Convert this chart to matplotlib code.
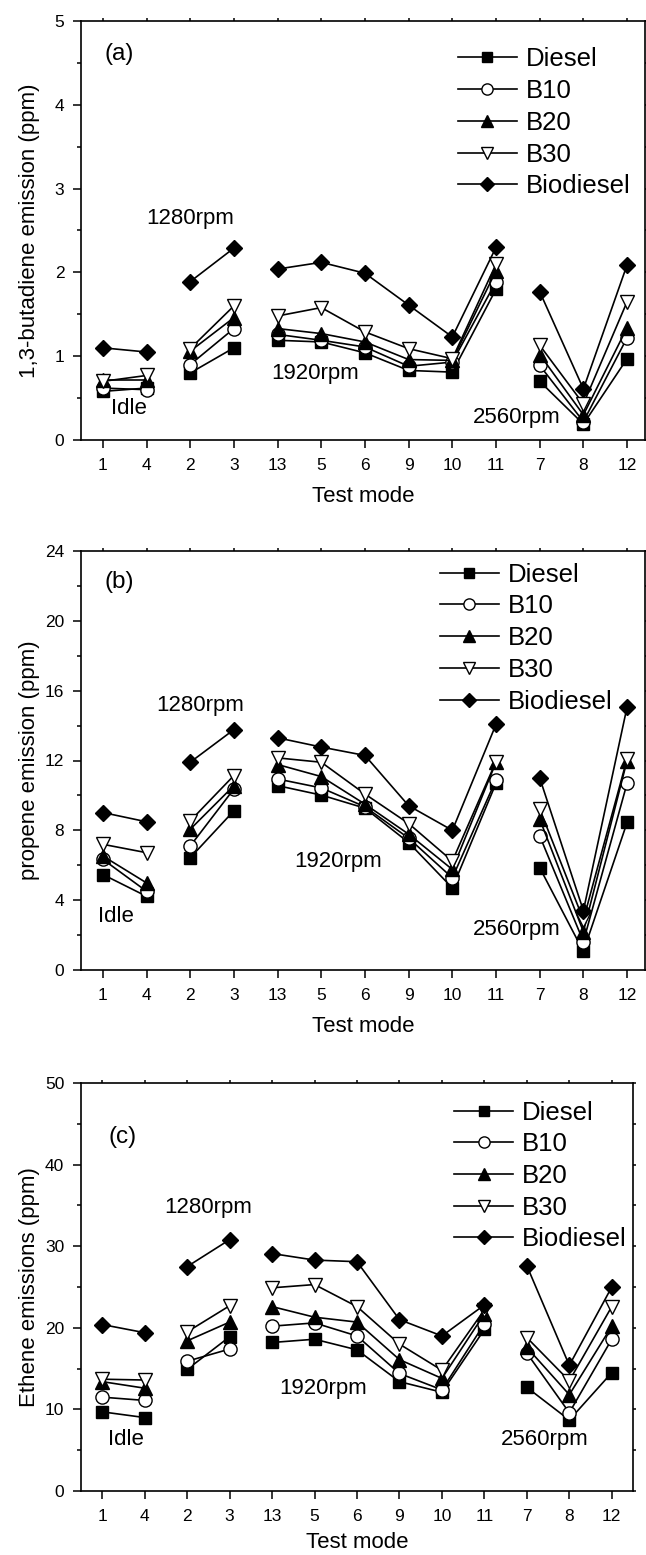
import numpy as np
import matplotlib
matplotlib.use("Agg")
import matplotlib.pyplot as plt
from matplotlib.ticker import MultipleLocator, FixedLocator

plt.rcParams['font.family'] = ['Liberation Sans', 'DejaVu Sans']

# ---------------- data ----------------
modes = ['1', '4', '2', '3', '13', '5', '6', '9', '10', '11', '7', '8', '12']
groups = [(0, 2), (2, 4), (4, 10), (10, 13)]   # speed groups (idle, 1280, 1920, 2560)
series = ['Diesel', 'B10', 'B20', 'B30', 'Biodiesel']

butadiene_diesel    = [0.58, 0.62, 0.80, 1.10, 1.19, 1.17, 1.04, 0.83, 0.81, 1.80, 0.70, 0.19, 0.97]
butadiene_b10       = [0.62, 0.60, 0.90, 1.33, 1.26, 1.19, 1.11, 0.88, 0.93, 1.89, 0.89, 0.22, 1.22]
butadiene_b20       = [0.72, 0.72, 1.06, 1.46, 1.33, 1.27, 1.17, 0.96, 0.95, 2.02, 1.02, 0.30, 1.34]
butadiene_b30       = [0.70, 0.77, 1.09, 1.60, 1.48, 1.58, 1.29, 1.09, 0.97, 2.10, 1.13, 0.43, 1.65]
butadiene_biodiesel = [1.10, 1.05, 1.89, 2.29, 2.04, 2.12, 1.99, 1.61, 1.23, 2.30, 1.77, 0.61, 2.09]

propene_diesel    = [5.47, 4.22, 6.43, 9.12, 10.56, 10.02, 9.27, 7.30, 4.70, 10.70, 5.86, 1.06, 8.45]
propene_b10       = [6.34, 4.51, 7.10, 10.37, 10.94, 10.43, 9.35, 7.55, 5.28, 10.89, 7.68, 1.63, 10.70]
propene_b20       = [6.53, 4.99, 8.06, 10.56, 11.77, 11.08, 9.50, 7.78, 5.76, 11.90, 8.64, 2.20, 12.00]
propene_b30       = [7.20, 6.72, 8.54, 11.14, 12.15, 11.90, 10.08, 8.39, 6.24, 11.94, 9.22, 2.88, 12.10]
propene_biodiesel = [9.02, 8.49, 11.90, 13.77, 13.30, 12.77, 12.29, 9.41, 8.00, 14.07, 11.00, 3.40, 15.07]

ethene_diesel    = [9.7, 9.0, 14.9, 18.9, 18.2, 18.6, 17.3, 13.4, 12.1, 19.8, 12.7, 8.7, 14.5]
ethene_b10       = [11.5, 11.1, 15.9, 17.4, 20.2, 20.6, 19.0, 14.4, 12.4, 20.5, 16.9, 9.6, 18.6]
ethene_b20       = [13.4, 12.6, 18.4, 20.7, 22.6, 21.3, 20.7, 16.1, 13.8, 21.7, 17.6, 11.8, 20.2]
ethene_b30       = [13.7, 13.6, 19.5, 22.7, 24.9, 25.3, 22.6, 18.0, 14.8, 22.2, 18.8, 13.5, 22.6]
ethene_biodiesel = [20.4, 19.4, 27.5, 30.8, 29.1, 28.3, 28.1, 21.0, 19.0, 22.8, 27.6, 15.4, 25.0]

panels = [
    dict(data=[butadiene_diesel, butadiene_b10, butadiene_b20, butadiene_b30, butadiene_biodiesel],
         ylabel='1,3-butadiene emission (ppm)', tag='(a)', ymax=5, major=1, minor=0.5),
    dict(data=[propene_diesel, propene_b10, propene_b20, propene_b30, propene_biodiesel],
         ylabel='propene emission (ppm)', tag='(b)', ymax=24, major=4, minor=2),
    dict(data=[ethene_diesel, ethene_b10, ethene_b20, ethene_b30, ethene_biodiesel],
         ylabel='Ethene emissions (ppm)', tag='(c)', ymax=50, major=10, minor=5),
]

# ---------------- styles / layout ----------------
W, H = 646, 1555
fig = plt.figure(figsize=(W / 100, H / 100), dpi=100)

# axes boxes in pixels: (left, top, right, bottom)
boxes = [(81, 21, 645, 440), (81, 551, 645, 970), (81, 1083, 633, 1491)]
xlims = [(-0.5, 12.41), (-0.5, 12.41), (-0.5, 12.5)]
xlabel_pads = [9, 9, 6]

styles = [
    dict(marker='s', mfc='black', ms=9),
    dict(marker='o', mfc='white', ms=9.5),
    dict(marker='^', mfc='black', ms=10),
    dict(marker='v', mfc='white', ms=10),
    dict(marker='D', mfc='black', ms=8),
]

# annotation positions (x index, y fraction of ymax)
annots = [
    dict(tag=(0.38, 0.922), idle=(0.6, 0.074), r1280=(2.0, 0.528), r1920=(4.87, 0.158), r2560=(9.47, 0.054)),
    dict(tag=(0.38, 0.925), idle=(0.31, 0.128), r1280=(2.22, 0.632), r1920=(5.39, 0.258), r2560=(9.47, 0.096)),
    dict(tag=(0.47, 0.868), idle=(0.56, 0.126), r1280=(2.49, 0.696), r1920=(5.2, 0.252), r2560=(10.43, 0.126)),
]
legend_anchor = [(0.668, 0.937), (0.636, 0.972), (0.676, 0.957)]

x = np.arange(len(modes))
for p, box, xl, an, la, lp in zip(panels, boxes, xlims, annots, legend_anchor, xlabel_pads):
    l, t, r, b = box
    ax = fig.add_axes([l / W, 1 - b / H, (r - l) / W, (b - t) / H])
    handles = []
    for name, vals, st in zip(series, p['data'], styles):
        vals = np.asarray(vals)
        for gi, (g0, g1) in enumerate(groups):
            ln, = ax.plot(x[g0:g1], vals[g0:g1], color='black', lw=1.2,
                          marker=st['marker'], mfc=st['mfc'], mec='black',
                          mew=1.0, ms=st['ms'], zorder=3)
            if gi == 0:
                handles.append(ln)
    ax.set_xlim(*xl)
    ax.set_ylim(0, p['ymax'])
    ax.xaxis.set_major_locator(FixedLocator(x))
    ax.set_xticklabels(modes)
    ax.yaxis.set_major_locator(MultipleLocator(p['major']))
    ax.yaxis.set_minor_locator(MultipleLocator(p['minor']))
    ax.tick_params(axis='both', which='major', direction='out', length=6, width=1.1,
                   labelsize=12.5, pad=6)
    ax.tick_params(axis='x', which='major', pad=7)
    ax.tick_params(axis='y', which='minor', direction='out', length=3, width=1.1)
    ax.tick_params(top=True, right=True, which='both', labeltop=False, labelright=False)
    for spine in ax.spines.values():
        spine.set_linewidth(1.2)
    # make top/right ticks tiny
    for tk in ax.xaxis.get_major_ticks():
        tk.tick2line.set_markersize(2)
    for tk in ax.yaxis.get_major_ticks():
        tk.tick2line.set_markersize(2)
    for tk in ax.yaxis.get_minor_ticks():
        tk.tick2line.set_markersize(2)

    ax.set_xlabel('Test mode', fontsize=16, labelpad=lp)
    ax.set_ylabel(p['ylabel'], fontsize=16)
    ax.yaxis.set_label_coords(-41 / (r - l), 0.5)

    ym = p['ymax']
    ax.text(an['tag'][0], an['tag'][1] * ym, p['tag'], fontsize=17.5, ha='center', va='center')
    ax.text(an['idle'][0], an['idle'][1] * ym, 'Idle', fontsize=16, ha='center', va='center')
    ax.text(an['r1280'][0], an['r1280'][1] * ym, '1280rpm', fontsize=16, ha='center', va='center')
    ax.text(an['r1920'][0], an['r1920'][1] * ym, '1920rpm', fontsize=16, ha='center', va='center')
    ax.text(an['r2560'][0], an['r2560'][1] * ym, '2560rpm', fontsize=16, ha='center', va='center')

    ax.legend(handles, series, loc='upper left', bbox_to_anchor=la, frameon=False,
              fontsize=18.5, handlelength=2.3, handletextpad=0.35, labelspacing=0.3,
              borderpad=0, borderaxespad=0, markerscale=0.85, numpoints=1)

fig.savefig('out.png', dpi=100)
